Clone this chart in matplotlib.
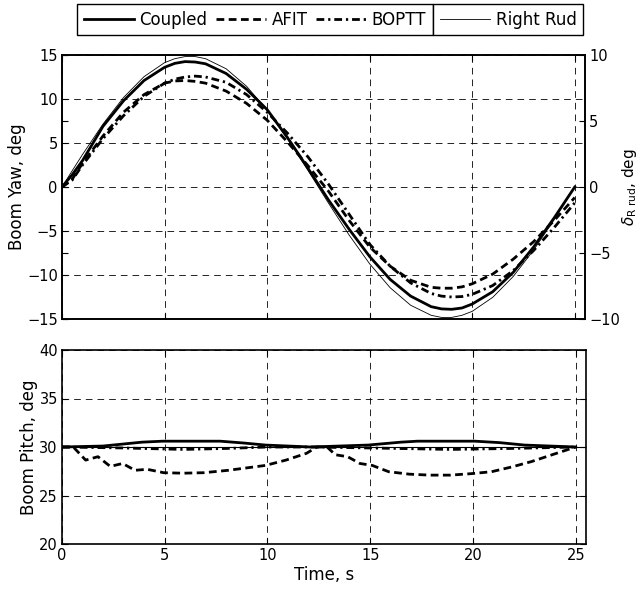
import matplotlib
matplotlib.use('Agg')
import matplotlib.pyplot as plt

plt.rcParams['font.family'] = ['DejaVu Sans']
plt.rcParams['mathtext.fontset'] = 'dejavusans'
plt.rcParams['font.size'] = 10.5

# --- top panel: boom yaw (left axis) and right rudder (right axis) ---
t_yaw = [0, 0.5, 1, 2, 3, 4, 5, 5.5, 6, 6.5, 7, 8, 9, 10, 11, 12, 13, 14,
         15, 16, 17, 18, 18.5, 19, 19.5, 20, 21, 22, 23, 24, 25]
yaw_coupled = [0, 1.4, 3.0, 6.9, 9.8, 12.1, 13.6, 14.05, 14.25, 14.2, 14.0,
               12.9, 11.1, 8.8, 5.6, 2.1, -1.5, -4.8, -7.9, -10.5, -12.4,
               -13.6, -13.85, -13.9, -13.75, -13.3, -11.9, -9.7, -6.8, -3.5,
               0]
yaw_afit = [0, 0.9, 2.7, 5.8, 8.5, 10.5, 11.8, 12.05, 12.1, 12.0, 11.8,
            10.9, 9.5, 7.6, 5.1, 2.4, -0.5, -3.8, -6.8, -9.0, -10.6, -11.4,
            -11.5, -11.5, -11.35, -11.0, -9.9, -8.2, -6.2, -3.8, -1.2]
yaw_boptt = [0, 0.8, 2.5, 5.5, 8.1, 10.3, 11.8, 12.25, 12.5, 12.6, 12.5,
             11.9, 10.5, 8.5, 6.1, 3.4, 0.3, -3.1, -6.5, -9.0, -10.9, -12.1,
             -12.4, -12.5, -12.45, -12.2, -11.2, -9.5, -7.2, -4.6, -1.8]
rud_right = [0, 1.24, 2.46, 4.77, 6.78, 8.36, 9.42, 9.72, 9.88, 9.88, 9.72,
             8.96, 7.63, 5.82, 3.64, 1.24, -1.24, -3.64, -5.82, -7.63, -8.96,
             -9.72, -9.88, -9.88, -9.72, -9.42, -8.36, -6.78, -4.77, -2.46, 0]

# --- bottom panel: boom pitch ---
t_pc = [0, 2.0, 3.9, 4.9, 7.7, 8.9, 9.9, 12.1, 14.9, 16.5, 17.3, 20.1, 21.3,
        22.5, 25]
pitch_coupled = [30, 30.1, 30.5, 30.6, 30.6, 30.4, 30.2, 30.0, 30.2, 30.5,
                 30.6, 30.6, 30.45, 30.2, 30]
t_pa = [0, 0.55, 1.15, 1.75, 2.35, 2.95, 3.55, 4.15, 4.95, 5.9, 6.9, 8.1,
        9.9, 10.9, 11.9, 12.4, 12.9, 13.3, 13.9, 14.5, 15.1, 15.9, 16.9,
        17.9, 18.9, 19.9, 20.9, 21.9, 22.85, 23.85, 25]
pitch_afit = [30, 30, 28.65, 29.0, 28.0, 28.3, 27.6, 27.7, 27.35, 27.3,
              27.35, 27.6, 28.1, 28.65, 29.35, 30, 30, 29.2, 29.0, 28.3,
              28.1, 27.45, 27.2, 27.1, 27.1, 27.25, 27.45, 27.95, 28.5,
              29.2, 30]
t_pb = [0, 3.0, 5.9, 8.0, 10.0, 12.2, 15.0, 18.9, 21.9, 25]
pitch_boptt = [30, 29.9, 29.75, 29.85, 30, 30.0, 29.9, 29.75, 29.85, 30]
pitch_ref = 30

dash = (0, (2.8, 1.6))
dashdot = (0, (2.8, 1.4, 0.8, 1.4))
grid_ls = (0, (8, 6))
label_size = 12

fig = plt.figure(figsize=(6.4, 5.93), dpi=100)
ax = fig.add_axes([62 / 640, 1 - 319 / 593, 523 / 640, 264 / 593])
bx = fig.add_axes([62 / 640, 1 - 544 / 593, 524 / 640, 194 / 593])

h1, = ax.plot(t_yaw, yaw_coupled, color='k', lw=2.0, label='Coupled')
h2, = ax.plot(t_yaw, yaw_afit, color='k', lw=2.0, ls=dash, label='AFIT')
h3, = ax.plot(t_yaw, yaw_boptt, color='k', lw=2.0, ls=dashdot, label='BOPTT')
ax.set_xlim(0, 25.5)
ax.set_ylim(-15, 15)
ax.set_yticks(range(-15, 16, 5))
ax.set_xticks(range(0, 26, 5))
ax.set_xticklabels([])
ax.set_ylabel('Boom Yaw, deg', fontsize=label_size, labelpad=1)
ax.grid(True, color='k', lw=0.6, ls=grid_ls)
ax.tick_params(direction='in', length=4, top=True, right=True, pad=3)

ax2 = ax.twinx()
h4, = ax2.plot(t_yaw, rud_right, color='k', lw=0.6, label='Right Rud')
ax2.set_ylim(-10, 10)
ax2.set_yticks(range(-10, 11, 5))
ax2.tick_params(direction='in', length=4, left=True, pad=3)
ax2.set_ylabel(r'$\delta_{\mathrm{R\ rud}}$, deg', fontsize=11, labelpad=0)

bx.plot(t_pc, pitch_coupled, color='k', lw=2.0)
bx.plot(t_pa, pitch_afit, color='k', lw=2.0, ls=dash)
bx.plot(t_pb, pitch_boptt, color='k', lw=2.0, ls=dashdot)
bx.axhline(pitch_ref, color='k', lw=0.8)
bx.set_xlim(0, 25.5)
bx.set_ylim(20, 40)
bx.set_yticks(range(20, 41, 5))
bx.set_xticks(range(0, 26, 5))
bx.set_xlabel('Time, s', fontsize=label_size, labelpad=2)
bx.set_ylabel('Boom Pitch, deg', fontsize=label_size, labelpad=1)
bx.grid(True, color='k', lw=0.6, ls=grid_ls)
bx.tick_params(direction='in', length=4, top=True, right=True, pad=3)

for a in (ax, ax2, bx):
    for s in a.spines.values():
        s.set_linewidth(1.2)

leg_kw = dict(frameon=True, fancybox=False, edgecolor='k', framealpha=1,
              handlelength=3.0, handletextpad=0.35, columnspacing=0.5,
              borderpad=0.4, borderaxespad=0, fontsize=12)
leg1 = fig.legend([h1, h2, h3], ['Coupled', 'AFIT', 'BOPTT'], ncol=3,
                  loc='upper right', bbox_to_anchor=(433 / 640, 1 - 4 / 593),
                  **leg_kw)
leg1.get_frame().set_linewidth(1.0)
leg2 = fig.legend([h4], ['Right Rud'], loc='upper left',
                  bbox_to_anchor=(433 / 640, 1 - 4 / 593), **leg_kw)
leg2.get_frame().set_linewidth(1.0)

fig.savefig('out.png', dpi=100)
